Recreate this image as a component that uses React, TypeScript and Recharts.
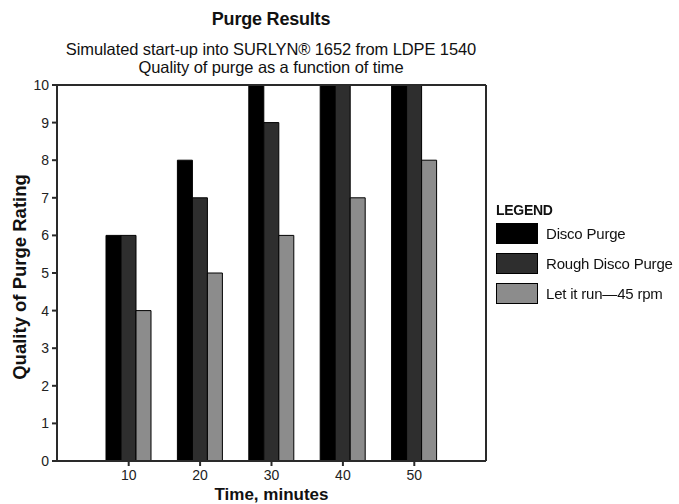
import React from 'react';
import { BarChart, Bar, XAxis, YAxis, Legend, ReferenceLine } from 'recharts';

const times = ['10', '20', '30', '40', '50'];
const discoPurge = [6, 8, 10, 10, 10];
const roughDiscoPurge = [6, 7, 9, 10, 10];
const letItRun = [4, 5, 6, 7, 8];
const yTicks = [0, 1, 2, 3, 4, 5, 6, 7, 8, 9, 10];

const series = [
  { key: 'disco', name: 'Disco Purge', color: '#000000' },
  { key: 'rough', name: 'Rough Disco Purge', color: '#2e2e2e' },
  { key: 'run', name: 'Let it run\u201445 rpm', color: '#8c8c8c' },
];

const data = times.map((t, i) => ({
  time: t,
  disco: discoPurge[i],
  rough: roughDiscoPurge[i],
  run: letItRun[i],
}));

const FONT = '"Liberation Sans", Arial, Helvetica, sans-serif';
const AXIS = '#2a2a2a';

const LegendBox = () => (
  <div style={{ fontFamily: FONT, color: '#111' }}>
    <div style={{ fontSize: 14, fontWeight: 'bold', height: 16, lineHeight: '16px', marginBottom: 4, letterSpacing: -0.3 }}>
      LEGEND
    </div>
    {series.map(s => (
      <div key={s.key} style={{ display: 'flex', alignItems: 'center', height: 22, marginBottom: 8 }}>
        <div style={{ width: 40, height: 19, background: s.color, border: '1.5px solid #000' }} />
        <span style={{ marginLeft: 8, fontSize: 15, letterSpacing: -0.2 }}>{s.name}</span>
      </div>
    ))}
  </div>
);

export default function App() {
  return (
    <div style={{ position: 'fixed', left: 0, top: 0, width: 679, height: 504, background: '#fff', fontFamily: FONT }}>
      <div style={{ position: 'absolute', left: 0, width: 542, top: 9, textAlign: 'center', fontSize: 18, lineHeight: '21px', fontWeight: 'bold', color: '#111', letterSpacing: -0.2 }}>
        Purge Results
      </div>
      <div style={{ position: 'absolute', left: 0, width: 542, top: 40, textAlign: 'center', fontSize: 16.5, lineHeight: '18px', color: '#111', letterSpacing: -0.1 }}>
        Simulated start-up into SURLYN® 1652 from LDPE 1540
        <br />
        Quality of purge as a function of time
      </div>
      <BarChart
        width={679}
        height={504}
        data={data}
        margin={{ top: 84, right: 2, bottom: 0, left: 0 }}
        barCategoryGap={13}
        barGap={0}
        style={{ position: 'absolute', left: 0, top: 0 }}
      >
        <XAxis
          dataKey="time"
          height={43}
          padding={{ left: 36, right: 36 }}
          stroke={AXIS}
          strokeWidth={2}
          tickSize={5}
          tickMargin={4}
          tick={{ fill: '#222', fontSize: 14, fontFamily: FONT }}
          label={{ value: 'Time, minutes', position: 'insideBottom', offset: 4, fill: '#111', fontSize: 17, fontWeight: 'bold', fontFamily: FONT }}
        />
        <XAxis xAxisId="top" dataKey="time" orientation="top" height={1} tick={false} tickLine={false} stroke={AXIS} strokeWidth={2} />
        <YAxis
          domain={[0, 10]}
          ticks={yTicks}
          width={57}
          stroke={AXIS}
          strokeWidth={2}
          tickSize={5}
          tickMargin={3}
          interval={0}
          tick={{ fill: '#222', fontSize: 14, fontFamily: FONT }}
          label={{ value: 'Quality of Purge Rating', angle: -90, position: 'center', dx: -9, dy: 4, fill: '#111', fontSize: 18.5, fontWeight: 'bold', fontFamily: FONT }}
        />
        <YAxis yAxisId="right" orientation="right" width={1} tick={false} tickLine={false} stroke={AXIS} strokeWidth={2} domain={[0, 10]} />
        <ReferenceLine y={10} stroke={AXIS} strokeWidth={2} />
        <Legend
          layout="vertical"
          align="right"
          verticalAlign="middle"
          content={() => <LegendBox />}
          wrapperStyle={{ left: 496, top: 202, width: 190 }}
        />
        {series.map(s => (
          <Bar key={s.key} dataKey={s.key} name={s.name} fill={s.color} stroke="#000" strokeWidth={1} isAnimationActive={false} />
        ))}
      </BarChart>
    </div>
  );
}
